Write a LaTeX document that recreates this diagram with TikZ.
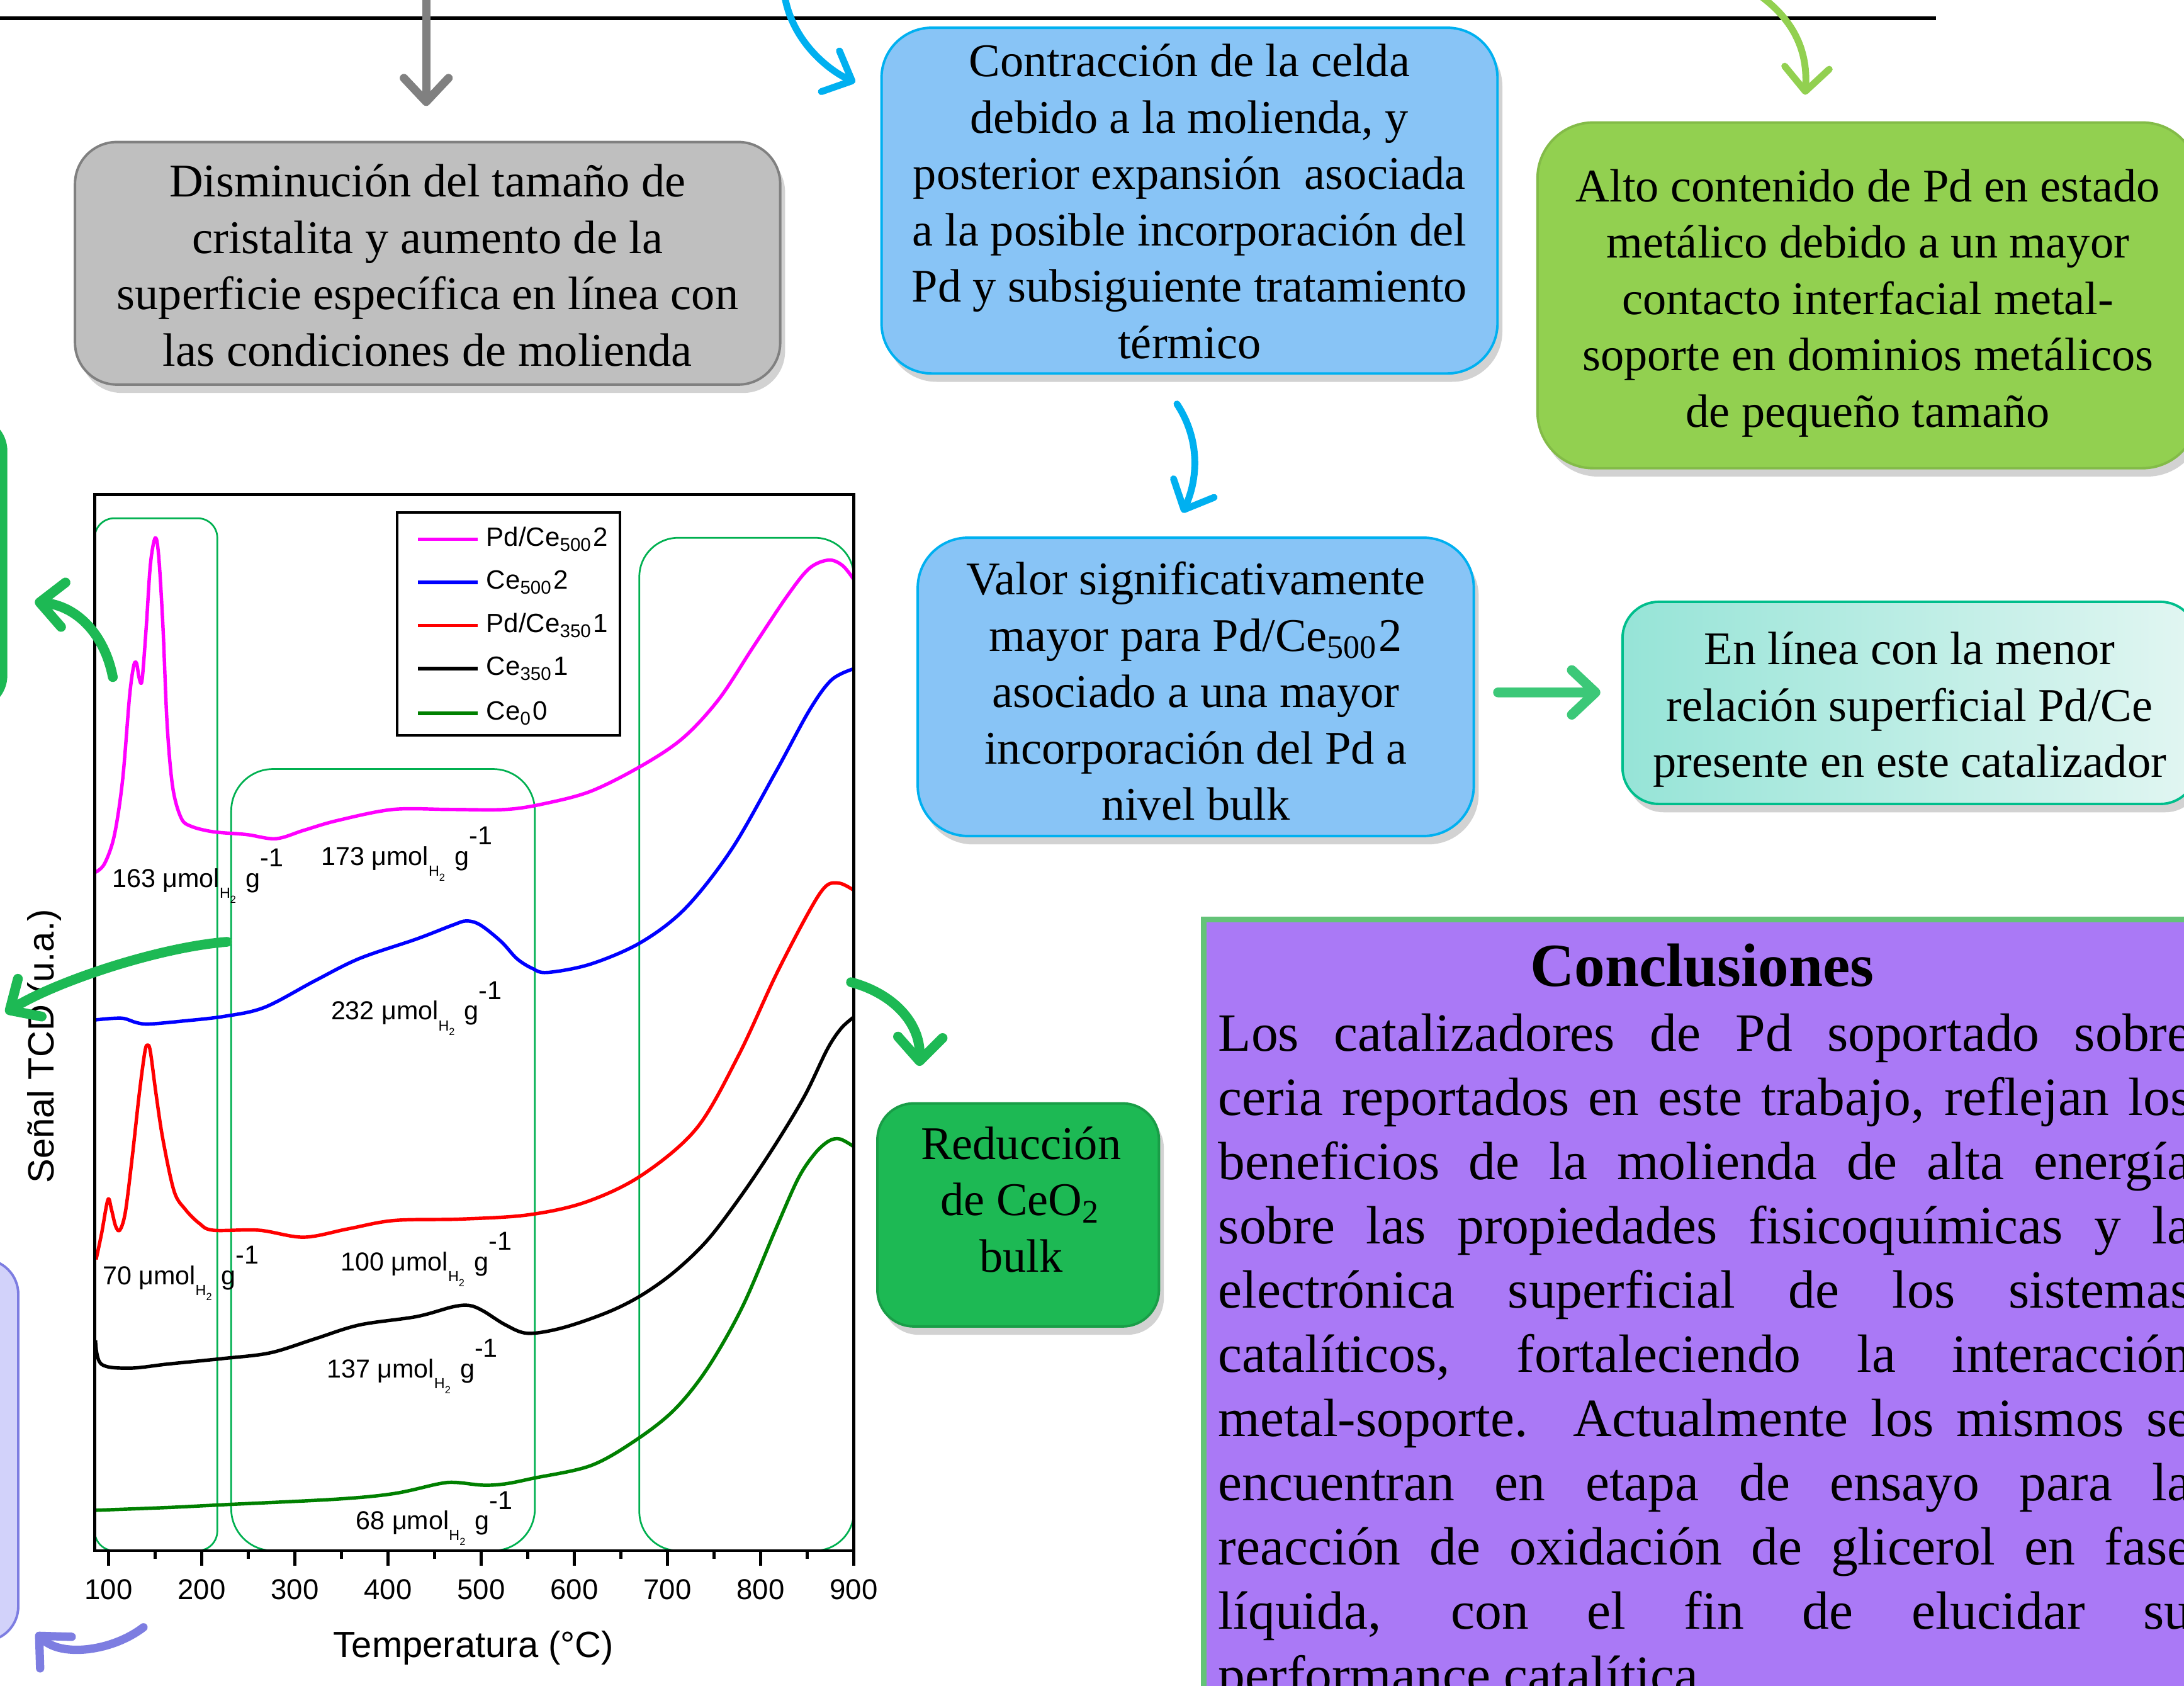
\documentclass[tikz,border=0pt]{standalone}
\usepackage{fontspec}
\setmainfont{Liberation Serif}
\newfontfamily\plotfont{Liberation Sans}
\usetikzlibrary{positioning,arrows.meta,shadows}

\definecolor{boxgray}{RGB}{191,191,191}
\definecolor{linegray}{RGB}{128,128,128}
\definecolor{skyblue}{RGB}{136,196,246}
\definecolor{cyanline}{RGB}{0,176,240}
\definecolor{limegreen}{RGB}{146,208,80}
\definecolor{leafgreen}{RGB}{29,185,84}
\definecolor{mintgreen}{RGB}{60,200,120}
\definecolor{tealleft}{RGB}{150,228,215}
\definecolor{tealright}{RGB}{226,246,242}
\definecolor{tealline}{RGB}{0,190,140}
\definecolor{violetbox}{RGB}{170,121,246}
\definecolor{conclrim}{RGB}{100,195,120}
\definecolor{lavender}{RGB}{210,210,250}
\definecolor{lavline}{RGB}{125,125,225}
\definecolor{bracketgreen}{RGB}{0,176,80}
\definecolor{tprmagenta}{RGB}{255,0,255}
\definecolor{tprblue}{RGB}{0,0,255}
\definecolor{tprred}{RGB}{255,0,0}
\definecolor{tprgreen}{RGB}{0,128,0}

% uptake label: value, umol H2 g^-1
\newcommand{\uptake}[1]{#1 μmol\raisebox{-2.2pt}{\fontsize{3}{3}\selectfont H\textsubscript{2}}\ g\raisebox{4.2pt}{-1}}
% extra room above a first line
\newcommand{\padtop}[1]{\rule{0pt}{#1}}

\tikzset{
  boxfont/.style={font=\fontsize{9.56}{11.5}\selectfont},
  infobox/.style={draw, rounded corners=3.2mm, align=center, inner sep=0pt, line width=0.5pt, boxfont,
    drop shadow={shadow xshift=0.35mm, shadow yshift=-0.6mm, opacity=0.35}},
  graybox/.style={infobox, fill=boxgray, draw=linegray, rounded corners=3mm},
  bluebox/.style={infobox, fill=skyblue, draw=cyanline, rounded corners=3.6mm},
  limebox/.style={infobox, fill=limegreen, draw=limegreen!90!black, rounded corners=4mm},
  tealbox/.style={infobox, left color=tealleft, right color=tealright, draw=tealline, rounded corners=2.6mm},
  leafbox/.style={infobox, fill=leafgreen, draw=leafgreen!85!black, rounded corners=2.6mm},
  conclbox/.style={draw=conclrim, line width=1.2pt, fill=violetbox, inner sep=0pt},
  sidebox/.style={rounded corners=2.5mm, inner sep=0pt},
  barb/.style={-{Straight Barb[length=1.7mm,width=3.2mm,round]}, line cap=round},
  grayarrow/.style={barb, draw=linegray, line width=1.7pt},
  bluearrow/.style={barb, draw=cyanline, line width=1.4pt},
  limearrow/.style={barb, draw=limegreen, line width=1.4pt},
  greenarrow/.style={barb, draw=leafgreen, line width=2pt},
  mintarrow/.style={barb, draw=mintgreen, line width=2pt},
  lavarrow/.style={barb, draw=lavline, line width=1.7pt},
  tpr/.style={line width=0.7pt, line join=round},
  bracket/.style={draw=bracketgreen, line width=0.35pt},
  tickfont/.style={font=\plotfont\fontsize{5.85}{7}\selectfont},
  axisfont/.style={font=\plotfont\fontsize{7.45}{9}\selectfont},
  legfont/.style={font=\plotfont\fontsize{5.4}{6.5}\selectfont, anchor=west, inner sep=0pt},
  qfont/.style={font=\plotfont\fontsize{5.3}{6.5}\selectfont, anchor=base west, inner sep=0pt}
}

\begin{document}
\begin{tikzpicture}[x=0.01cm, y=-0.01cm]
\useasboundingbox (0,0) rectangle (1568,1210);
\fill[white] (0,0) rectangle (1568,1210);
\clip (0,0) rectangle (1568,1210);

% rule of the poster
\draw[line width=0.75pt] (0,13) -- (1390,13);

% result boxes
\node[graybox, minimum width=5.06cm, minimum height=1.74cm] (crystal) at (307,189)
  {\padtop{7.5pt}Disminución del tamaño de\\cristalita y aumento de la\\superficie específica en línea con\\las condiciones de molienda};
\node[bluebox, minimum width=4.42cm, minimum height=2.48cm] (cell) at (854,144)
  {\padtop{7pt}Contracción de la celda\\debido a la molienda, y\\posterior expansión\ \ asociada\\a la posible incorporación del\\Pd y subsiguiente tratamiento\\térmico};
\node[limebox, minimum width=4.74cm, minimum height=2.48cm] (metal) at (1341,212)
  {\padtop{9.8pt}Alto contenido de Pd en estado\\metálico debido a un mayor\\contacto interfacial metal-\\soporte en dominios metálicos\\de pequeño tamaño};
\node[bluebox, minimum width=3.99cm, minimum height=2.14cm] (bulkpd) at (858.5,493)
  {\padtop{8.5pt}Valor significativamente\\mayor para Pd/Ce\textsubscript{500}2\\asociado a una mayor\\incorporación del Pd a\\nivel bulk};
\node[tealbox, minimum width=4.12cm, minimum height=1.45cm] (ratio) at (1371,504.5)
  {\padtop{9.5pt}En línea con la menor\\relación superficial Pd/Ce\\presente en este catalizador};
\node[leafbox, minimum width=2.02cm, minimum height=1.6cm] (ceo2) at (731,872) {};
\node[boxfont, align=center] (ceo2txt) at (733,861) {Reducción\\de CeO\textsubscript{2}\\bulk};

% boxes cut by the left edge
\node[sidebox, fill=leafgreen, minimum width=2cm, minimum height=2.11cm, anchor=north east] (leftgreen) at (6,298) {};
\node[sidebox, fill=lavender, draw=lavline, line width=0.5pt, minimum width=2cm, minimum height=2.74cm, anchor=north east] (leftlav) at (14,903) {};

% conclusions
\node[conclbox, minimum width=7.6cm, minimum height=6cm, anchor=north west] (concl) at (862,658) {};
\node[font=\bfseries\fontsize{12.5}{15}\selectfont] (concltitle) at (1222,693) {Conclusiones};
\node[font=\fontsize{11}{13.1}\selectfont, text width=6.98cm, align=justify, inner sep=0pt, anchor=north west] (concltext) at (874,727)
  {Los catalizadores de Pd soportado sobre\linebreak
   ceria reportados en este trabajo, reflejan los\linebreak
   beneficios de la molienda de alta energía\linebreak
   sobre las propiedades fisicoquímicas y la\linebreak
   electrónica superficial de los sistemas\linebreak
   catalíticos, fortaleciendo la interacción\linebreak
   metal-soporte. Actualmente los mismos se\linebreak
   encuentran en etapa de ensayo para la\linebreak
   reacción de oxidación de glicerol en fase\linebreak
   líquida, con el fin de elucidar su\linebreak
   performance catalítica.};

% TPR plot
\draw[bracket, rounded corners=1.4mm] (68,372) rectangle (156,1113);
\draw[bracket, rounded corners=3mm] (166,552) rectangle (384,1113);
\draw[bracket, rounded corners=2.8mm] (459,386) rectangle (613,1113);

\draw[tpr, tprmagenta] plot[smooth, tension=0.55] coordinates {(68.6,626) (75,620) (82,600) (88,560) (93,500) (96,478) (98,476) (100,487) (102,488) (105,450) (108,405) (111.5,386) (114,400) (117,450) (120,520) (124,565) (130,587) (137,593) (153,597) (177,599) (198,602) (218,596) (242,589) (282,581) (323,581) (363,581) (390,577) (424,568) (460,550) (490,530) (516,502) (541,464) (565,428) (581,408) (595,402) (605,406) (613,416)};
\draw[tpr, tprblue] plot[smooth, tension=0.55] coordinates {(69,732) (80,731) (89,731) (98,734) (107,735) (130,733) (161,729.5) (190,723) (226,704) (258,688) (299,674) (325,664) (335,661) (345,664) (360,676) (371,688) (382,695) (393,698) (424,692) (460,676.5) (492,652) (525,610) (557,554) (581,510) (597,488) (613,480)};
\draw[tpr, tprred] plot[smooth, tension=0.55] coordinates {(69,904) (73,885) (77.5,861) (80,868) (83,880) (86,883) (90,870) (95,830) (100,785) (104,755) (106,750) (108,755) (112,785) (117,818) (125,855) (133,868) (143,878) (153,883) (186,883) (218,888) (250,882) (283,876) (331,875) (379,872) (420,863) (460,844) (500,810) (530,758) (557,700) (581,654) (593,636) (603,634) (613,639)};
\draw[tpr, black] plot[smooth, tension=0.55] coordinates {(68.6,962) (72.6,979) (93,982) (121,979) (161,975) (194,971) (226,961) (258,951) (299,945) (325,938) (337,937) (347,941) (363,951) (379,957) (404,953) (436,942) (460,930) (484,913) (508,890) (533,857) (557,821) (578,786) (594,753) (604,738) (613,730)};
\draw[tpr, tprgreen] plot[smooth, tension=0.55] coordinates {(68.6,1084) (121,1082) (161,1080) (242,1076) (283,1072) (315,1065) (327,1064) (347,1066) (363,1065) (383,1061) (424,1052) (456,1034) (484,1012) (508,982) (533,938) (557,882) (573,846) (585,828) (595,819) (603,817.5) (613,823)};

\draw[line width=0.6pt] (68,355) rectangle (613,1113);
\foreach \t in {100,200,...,900} {
  \draw[line width=0.6pt] ({78+(\t-100)*0.66875},1113) -- ++(0,11);
  \node[tickfont] (tick\t) at ({78+(\t-100)*0.66875},1141) {\t};
}
\foreach \t in {150,250,...,850}
  \draw[line width=0.6pt] ({78+(\t-100)*0.66875},1113) -- ++(0,6);
\node[axisfont] (xlab) at (340,1183) {Temperatura (°C)};
\node[axisfont, rotate=90] (ylab) at (32,751) {Señal TCD (u.a.)};

% legend
\draw[line width=0.5pt] (285,368) rectangle (445,528);
\draw[line width=0.7pt, tprmagenta] (300,387) -- (343,387) node[legfont, black] (leg1) at (348,387) {Pd/Ce\textsubscript{500}2};
\draw[line width=0.7pt, tprblue] (300,418) -- (343,418) node[legfont, black] (leg2) at (348,418) {Ce\textsubscript{500}2};
\draw[line width=0.7pt, tprred] (300,449) -- (343,449) node[legfont, black] (leg3) at (348,449) {Pd/Ce\textsubscript{350}1};
\draw[line width=0.7pt, black] (300,480) -- (343,480) node[legfont, black] (leg4) at (348,480) {Ce\textsubscript{350}1};
\draw[line width=0.7pt, tprgreen] (300,512) -- (343,512) node[legfont, black] (leg5) at (348,512) {Ce\textsubscript{0}0};

% hydrogen uptakes
\node[qfont] (q163) at (80,637) {\uptake{163}};
\node[qfont] (q173) at (230,621) {\uptake{173}};
\node[qfont] (q232) at (237,732) {\uptake{232}};
\node[qfont] (q70) at (73,922) {\uptake{70}};
\node[qfont] (q100) at (244,912) {\uptake{100}};
\node[qfont] (q137) at (234,989) {\uptake{137}};
\node[qfont] (q68) at (255,1098) {\uptake{68}};

% arrows
\coordinate (grayfrom) at (306,-10);
\coordinate (bluefrom) at (563,-5);
\coordinate (limefrom) at (1261,-5);
\coordinate (peakfrom) at (81,486);
\coordinate (peakto) at (25,432);
\coordinate (midfrom) at (163,676);
\coordinate (midto) at (4,727);
\coordinate (highfrom) at (611,705);
\coordinate (lowfrom) at (103,1168);
\coordinate (lowto) at (26,1172);

\draw[grayarrow, shorten >=0.25cm] (grayfrom) -- (grayfrom |- crystal.north);
\draw[bluearrow] (bluefrom) .. controls +(5,35) and +(-18,-8) .. ([xshift=-0.18cm,yshift=-0.4cm]cell.north west);
\draw[limearrow] (limefrom) .. controls +(29,20) and +(2,-29) .. ([xshift=-0.45cm,yshift=0.19cm]metal.north);
\draw[bluearrow] ([xshift=-0.09cm,yshift=-0.21cm]cell.south) .. controls +(17,26) and +(11,-24) .. ([xshift=-0.095cm,yshift=0.17cm]bulkpd.north);
\draw[mintarrow, shorten <=0.165cm, shorten >=0.15cm] ([yshift=-0.04cm]bulkpd.east) -- ([yshift=0.075cm]ratio.west);
\draw[greenarrow] (highfrom) .. controls +(30,8) and +(1,-31) .. ([xshift=0.31cm,yshift=0.26cm]ceo2.north west);
\draw[greenarrow] (peakfrom) .. controls +(-6,-31) and +(30,3) .. (peakto);
\draw[greenarrow] (midfrom) .. controls +(-50,4) and +(35,-22) .. (midto);
\draw[lavarrow] (lowfrom) .. controls +(-22,17) and +(18,18) .. (lowto);
\end{tikzpicture}
\end{document}
